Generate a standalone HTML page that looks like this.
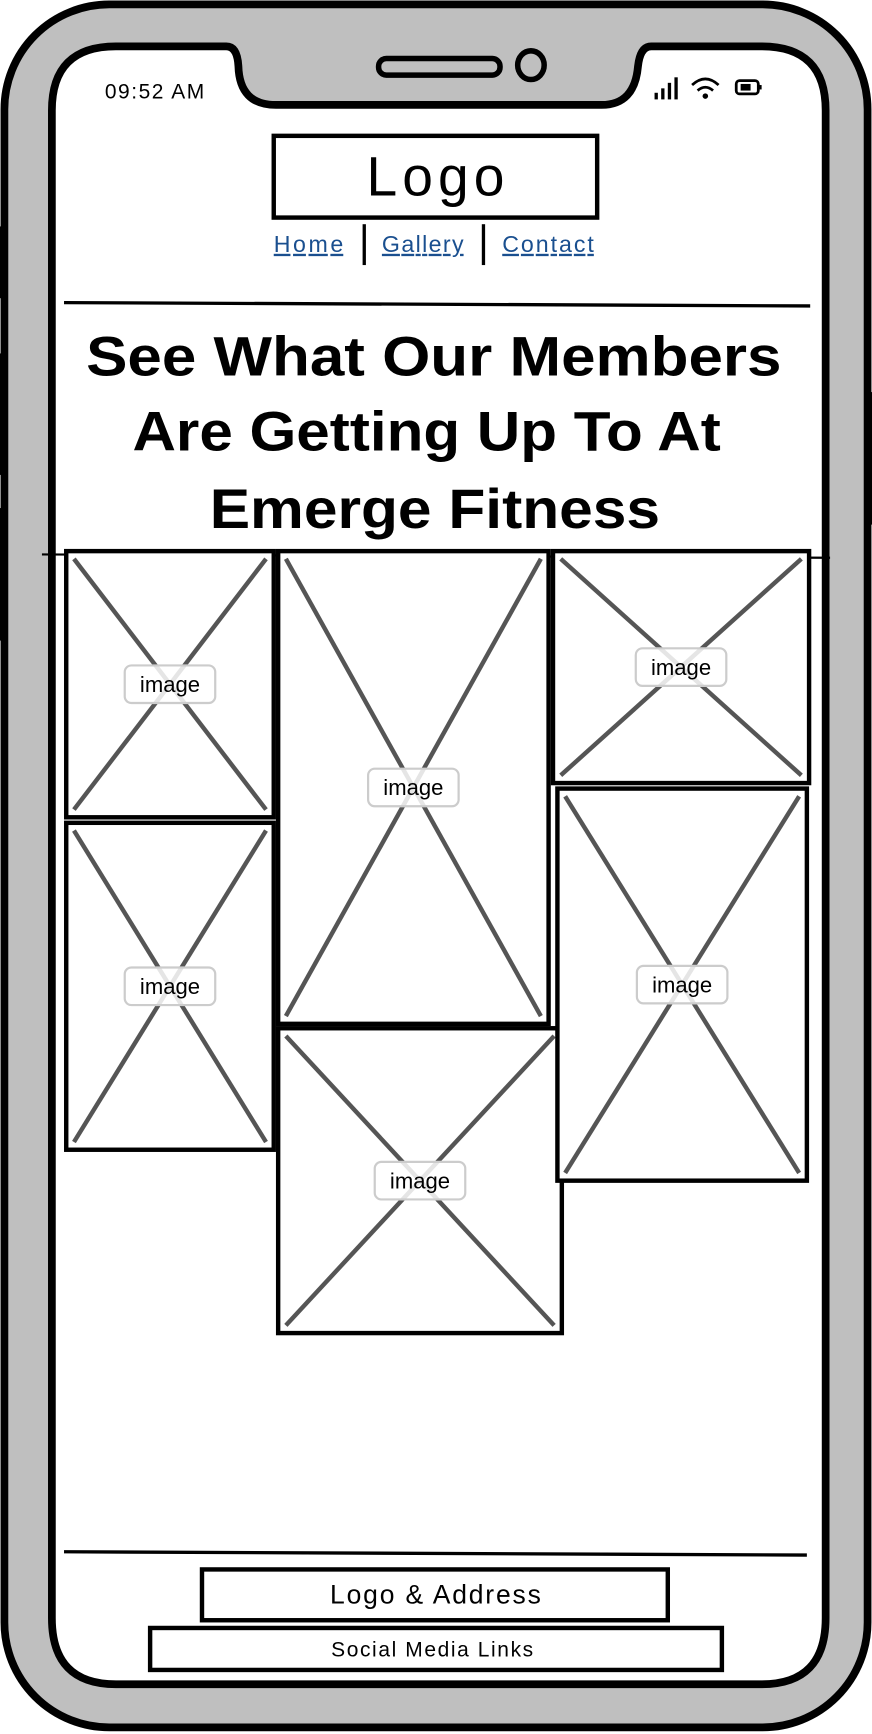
<!DOCTYPE html>
<html><head><meta charset="utf-8"><style>
html,body{margin:0;padding:0;background:#fff;}
svg{display:block;}
text{font-family:"Liberation Sans","DejaVu Sans",sans-serif;}
</style></head><body>
<svg width="872" height="1734" viewBox="0 0 790 1570" preserveAspectRatio="none" xmlns="http://www.w3.org/2000/svg">
<rect x="4" y="4" width="782" height="1560" rx="95" fill="#bfbfbf" stroke="#000" stroke-width="7"/>
<rect x="0" y="205" width="6" height="65" fill="#000"/>
<rect x="0" y="320" width="6" height="110" fill="#000"/>
<rect x="0" y="460" width="6" height="120" fill="#000"/>
<rect x="784" y="355" width="6" height="120" fill="#000"/>
<path d="M105 42 H205 Q215 42 216 60 Q217 95 250 95 H545 Q575 95 578 60 Q580 42 590 42 H690 Q748 42 748 100 V1465 Q748 1525 690 1525 H105 Q47 1525 47 1465 V100 Q47 42 105 42 Z" fill="#fff" stroke="#000" stroke-width="7"/>
<rect x="343" y="53" width="110" height="15" rx="7" fill="#bfbfbf" stroke="#000" stroke-width="5"/>
<ellipse cx="481" cy="59" rx="12" ry="13" fill="#bfbfbf" stroke="#000" stroke-width="5"/>
<text x="95" y="89" font-size="19" textLength="90" fill="#000">09:52 AM</text>
<g fill="#000">
<rect x="593" y="84" width="3" height="6"/><rect x="599" y="80" width="3" height="10"/><rect x="605" y="75" width="3" height="15"/><rect x="611" y="70" width="3" height="20"/></g>
<g fill="none" stroke="#000" stroke-width="2.5">
<path d="M627 77 Q639 66 651 77"/><path d="M632 82 Q639 76 646 82"/></g>
<circle cx="639" cy="87" r="2.5" fill="#000"/>
<g><rect x="667" y="73" width="20" height="12" rx="3" fill="none" stroke="#000" stroke-width="2.5"/><rect x="671" y="76" width="9" height="6" fill="#000"/><rect x="688" y="77" width="2" height="4" fill="#000"/></g>
<rect x="248" y="123" width="293" height="74" fill="#fff" stroke="#000" stroke-width="4"/>
<text x="332" y="177" font-size="50" textLength="125" fill="#000">Logo</text>
<text x="248" y="228" font-size="21" textLength="63" fill="#1a4f8f" text-decoration="underline">Home</text>
<line x1="330" y1="203" x2="330" y2="240" stroke="#000" stroke-width="3"/>
<text x="346" y="228" font-size="21" textLength="74" fill="#1a4f8f" text-decoration="underline">Gallery</text>
<line x1="438" y1="203" x2="438" y2="240" stroke="#000" stroke-width="3"/>
<text x="455" y="228" font-size="21" textLength="83" fill="#1a4f8f" text-decoration="underline">Contact</text>
<line x1="58" y1="274" x2="734" y2="277" stroke="#000" stroke-width="3"/>
<g font-size="50" font-weight="bold" fill="#000">
<text x="78" y="340" textLength="630" lengthAdjust="spacingAndGlyphs">See What Our Members</text>
<text x="120" y="408" textLength="533" lengthAdjust="spacingAndGlyphs">Are Getting Up To At</text>
<text x="190" y="478" textLength="408" lengthAdjust="spacingAndGlyphs">Emerge Fitness</text></g>
<line x1="38" y1="502" x2="752" y2="505" stroke="#000" stroke-width="2"/>
<g id="imgs"></g>
<line x1="58" y1="1405" x2="731" y2="1408" stroke="#000" stroke-width="3"/>
<rect x="183" y="1421" width="422" height="46" fill="#fff" stroke="#000" stroke-width="4"/>
<text x="299" y="1452" font-size="24" textLength="191" fill="#000">Logo &amp; Address</text>
<rect x="136" y="1474" width="518" height="38" fill="#fff" stroke="#000" stroke-width="4"/>
<text x="300" y="1500" font-size="19" textLength="183" fill="#000">Social Media Links</text>
</svg>
<script>
const boxes=[[60,499,248,740],[252,499,497,927],[501,499,733,709],[60,745,248,1041],[252,931,509,1207],[505,714,731,1069]];
const g=document.getElementById('imgs');const ns='http://www.w3.org/2000/svg';
boxes.forEach((b,i)=>{const [x1,y1,x2,y2]=b;const grp=document.createElementNS(ns,'g');


const cx=(x1+x2)/2,cy=(y1+y2)/2;
grp.innerHTML=`<rect x="${x1}" y="${y1}" width="${x2-x1}" height="${y2-y1}" fill="#fff" stroke="#000" stroke-width="4"/>
<line x1="${x1+7}" y1="${y1+7}" x2="${x2-7}" y2="${y2-7}" stroke="#555" stroke-width="4"/>
<line x1="${x2-7}" y1="${y1+7}" x2="${x1+7}" y2="${y2-7}" stroke="#555" stroke-width="4"/>
<rect x="${cx-41}" y="${cy-17}" width="82" height="34" rx="6" fill="rgba(255,255,255,0.85)" stroke="#ccc" stroke-width="2"/>
<text x="${cx}" y="${cy+7}" font-size="20" text-anchor="middle" fill="#000">image</text>`;
g.appendChild(grp);});
</script>
</body></html>
